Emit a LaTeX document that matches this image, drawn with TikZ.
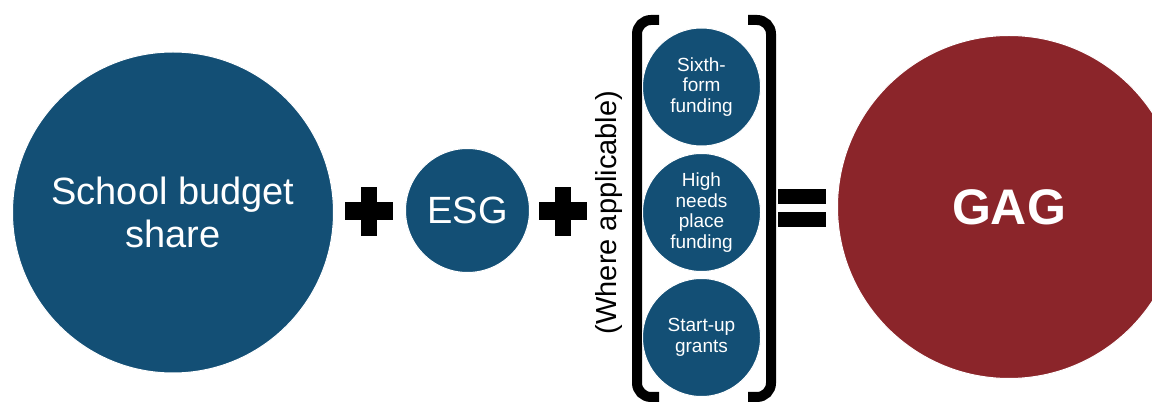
\documentclass[tikz,border=0pt]{standalone}
\usepackage{fontspec}
\setmainfont{Liberation Sans}
\definecolor{fundblue}{HTML}{134F75}
\definecolor{gagred}{HTML}{8B252A}
\tikzset{
  fund/.style={circle,fill=fundblue,draw=white,line width=1pt,inner sep=0pt,text=white,align=center},
  smallfund/.style={fund,minimum size=118pt,font=\fontsize{19}{20.5}\selectfont},
  brack/.style={line width=10pt,rounded corners=14pt}
}
\begin{document}
\begin{tikzpicture}[x=1pt,y=-1pt]
\clip (0,0) rectangle (1152,403);
\node[fund,minimum size=321pt,font=\fontsize{38}{43}\selectfont] (budget) at (173,212.5) {School budget\\share};
\node[fund,minimum size=124pt,font=\fontsize{38}{43}\selectfont] (esg) at (467.5,210.5) {ESG};
\foreach \px in {369,562.5}{
  \fill (\px-24,202) rectangle (\px+24,220);
  \fill (\px-8,187) rectangle (\px+8,236);
}
\node[rotate=90,font=\fontsize{29}{32}\selectfont,inner sep=0pt] (where) at (609,212.5) {(Where applicable)};
\draw[brack] (659,20) -- (637,20) -- (637,397) -- (659,397);
\draw[brack] (748,20) -- (771,20) -- (771,397) -- (748,397);
\node[smallfund] (sixth) at (701.5,87) {Sixth-\\form\\funding};
\node[smallfund] (highneeds) at (701.5,212.5) {High\\needs\\place\\funding};
\node[smallfund] (startup) at (701.5,337.5) {Start-up\\grants};
\fill (778,189) rectangle (826,204);
\fill (778,212) rectangle (826,227);
\node[fund,fill=gagred,minimum size=343pt,font=\fontsize{50}{56}\bfseries] (gag) at (1009,207) {GAG};
\end{tikzpicture}
\end{document}
